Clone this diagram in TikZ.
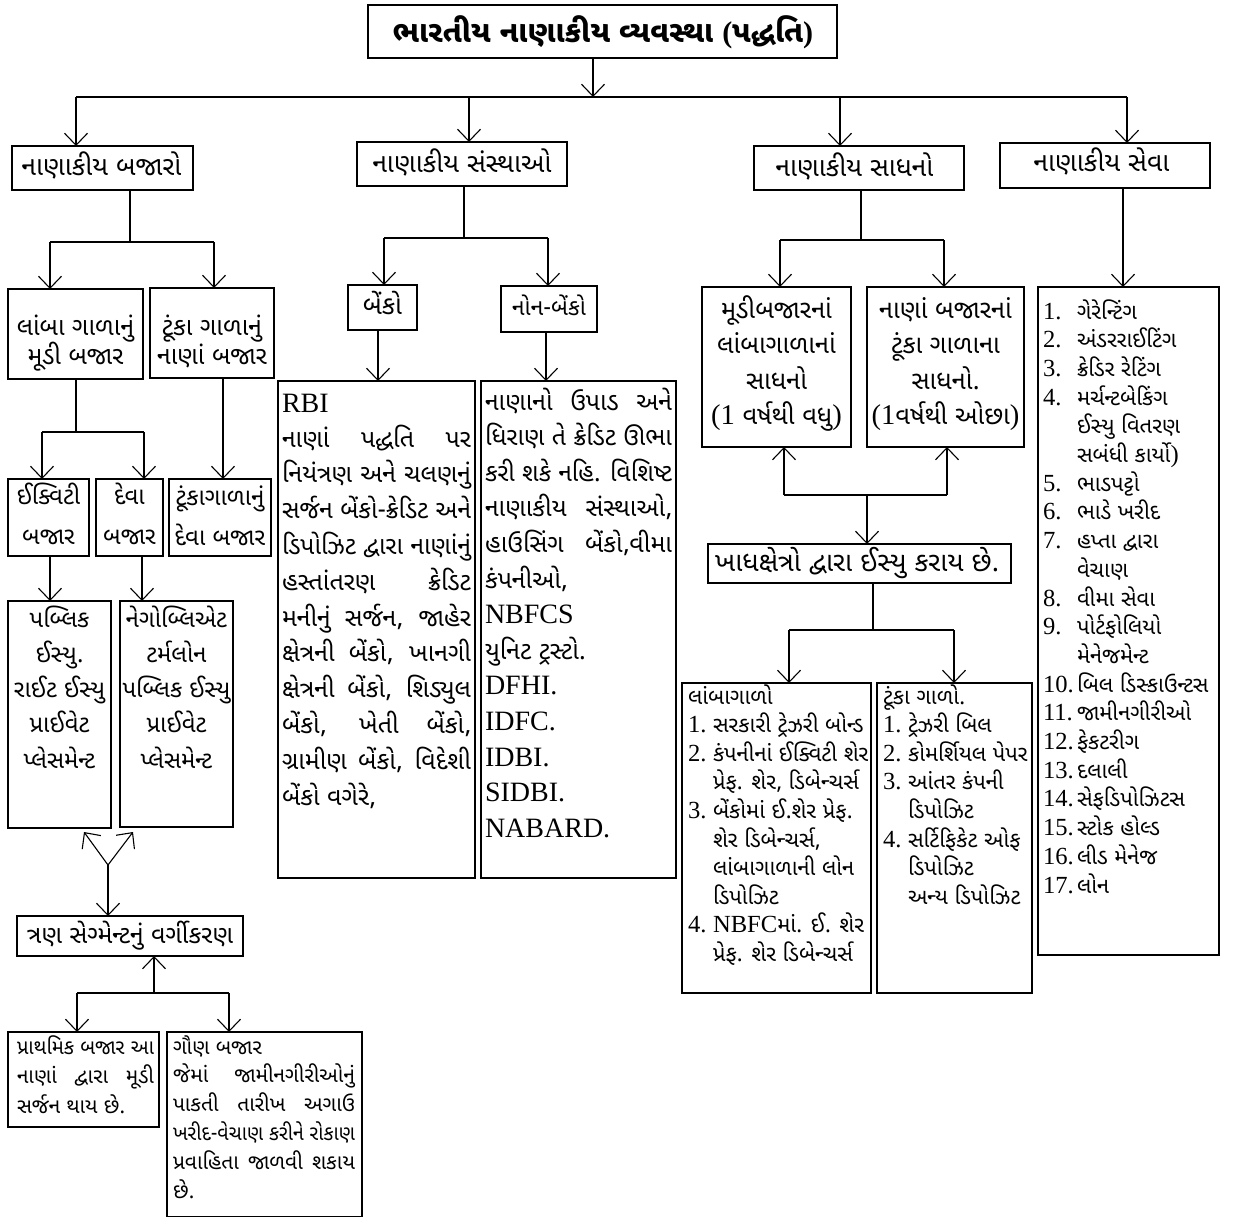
\documentclass[tikz,border=0pt]{standalone}
\usepackage{fontspec}
\usepackage{graphicx}
\setmainfont{Liberation Serif}
\newfontfamily\guj[Script=Gujarati]{Noto Sans Gujarati UI}
\newfontfamily\latf{Liberation Serif}
\usetikzlibrary{arrows.meta}
\newlength\jw
\newcommand\J[1]{\sbox0{#1}\ifdim\wd0>\jw\resizebox{\jw}{\height}{\usebox0}\else\makebox[\jw][s]{#1}\fi}
\makeatletter
\newcommand\lt[1]{{\latf\fontsize{\fpeval{round(\f@size*1.12,1)}}{10}\selectfont #1}}
\makeatother
\newcommand\LT[1]{{\latf\fontsize{28}{30}\selectfont #1}}
\newcommand\nm[2]{\makebox[#1][l]{\lt{#2}}}
\newcommand\tl[6]{\foreach \tx [count=\ii from 0] in {#6}{\node[#2] (#1-\ii) at (#3,{#4+\ii*#5}) {\tx};}}
\newcommand\bx[6][]{\node[box,#1,anchor=north west,minimum width={(#5-#3)*1pt},minimum height={(#6-#4)*1pt}] (#2) at (#3,#4) {};}
\tikzset{
 box/.style={draw, line width=1.1pt, inner sep=0pt, outer sep=0pt},
 arr/.style={-{Straight Barb[length=12pt,width=23pt]}, line width=1.1pt},
 ln/.style={line width=1.1pt},
 fs/.style={font=\guj\fontsize{#1}{#1}\selectfont},
 gl/.style={inner sep=0pt, outer sep=0pt, anchor=base west, fs=21},
 gc/.style={gl, anchor=base},
 hd/.style={inner sep=0pt, outer sep=0pt, anchor=base, fs=26.5},
}
\begin{document}
\begin{tikzpicture}[x=1pt,y=-1pt]
\useasboundingbox[fill=white] (0,0) rectangle (1236,1217);
% title
\bx[line width=2.6pt]{title}{368}{5}{837}{58}
\node[inner sep=0pt, anchor=base, font=\guj\bfseries\fontsize{30}{34}\selectfont] (t-title) at (603,43) {ભારતીય નાણાકીય વ્યવસ્થા {\latf(}પદ્ધતિ{\latf)}};
% level 1
\bx{baj}{12}{146}{193}{190}
\bx{san}{357}{142}{567}{186}
\bx{sad}{754}{146}{964}{190}
\bx{sev}{1000}{143}{1210}{188}
\node[hd] (t-baj) at (101.5,176) {નાણાકીય બજારો};
\node[hd] (t-san) at (462,173) {નાણાકીય સંસ્થાઓ};
\node[hd] (t-sad) at (854.5,177) {નાણાકીય સાધનો};
\node[hd] (t-sev) at (1101.5,172) {નાણાકીય સેવા};
\coordinate (hx) at (593,97);
\coordinate (h1) at (76,97);
\coordinate (h2) at (469,97);
\coordinate (h3) at (840,97);
\coordinate (h4) at (1127,97);
\draw[arr] (title.south -| hx) -- (hx);
\draw[ln] (h1) -- (h4);
\draw[arr] (h1) -- (h1 |- baj.north);
\draw[arr] (h2) -- (h2 |- san.north);
\draw[arr] (h3) -- (h3 |- sad.north);
\draw[arr] (h4) -- (h4 |- sev.north);
% markets subtree
\bx{lmb}{8}{289}{143}{379}
\bx{tnb}{150}{288}{274}{378}
\tl{t-lmb}{gc,fs=25}{75.5}{335}{29}{{લાંબા ગાળાનું},{મૂડી બજાર}}
\tl{t-tnb}{gc,fs=25}{212}{335}{29}{{ટૂંકા ગાળાનું},{નાણાં બજાર}}
\coordinate (b0) at (130,242);
\coordinate (bL) at (50,242);
\coordinate (bR) at (214,242);
\draw[ln] (baj.south -| b0) -- (b0);
\draw[ln] (bL) -- (bR);
\draw[arr] (bL) -- (bL |- lmb.north);
\draw[arr] (bR) -- (bR |- tnb.north);
\bx{eq}{8}{479}{89}{556}
\bx{dev}{96}{479}{163}{556}
\bx{tdb}{169}{479}{271}{556}
\tl{t-eq}{gc,fs=24}{48.5}{504}{40}{{ઈક્વિટી},{બજાર}}
\tl{t-dev}{gc,fs=24}{129.5}{504}{40}{{દેવા},{બજાર}}
\tl{t-tdb}{gc,fs=24}{220}{505}{40}{{ટૂંકાગાળાનું},{દેવા બજાર}}
\coordinate (c0) at (76,432);
\coordinate (cL) at (42,432);
\coordinate (cR) at (144,432);
\coordinate (tdt) at (223,479);
\draw[ln] (lmb.south -| c0) -- (c0);
\draw[ln] (cL) -- (cR);
\draw[arr] (cL) -- (cL |- eq.north);
\draw[arr] (cR) -- (cR |- dev.north);
\draw[arr] (tnb.south -| tdt) -- (tdt);
\bx{pub}{8}{601}{111}{828}
\bx{neg}{120}{601}{233}{827}
\tl{t-pub}{gc,fs=24}{59.5}{627}{35.3}{{પબ્લિક},{ઈસ્યુ.},{રાઈટ ઈસ્યુ},{પ્રાઈવેટ},{પ્લેસમેન્ટ}}
\tl{t-neg}{gc,fs=24}{176.5}{627}{35.3}{{નેગોબ્લિએટ},{ટર્મલોન},{પબ્લિક ઈસ્યુ},{પ્રાઈવેટ},{પ્લેસમેન્ટ}}
\coordinate (pt) at (50,601);
\coordinate (nt) at (142,601);
\draw[arr] (eq.south -| pt) -- (pt);
\draw[arr] (dev.south -| nt) -- (nt);
\bx{seg}{17}{916}{243}{956}
\node[gc,fs=25] (t-seg) at (130,943) {ત્રણ સેગ્મેન્ટનું વર્ગીકરણ};
\coordinate (vj) at (108,865);
\coordinate (va) at (84,832);
\coordinate (vb) at (133,832);
\draw[arr] (vj) -- (va);
\draw[arr] (vj) -- (vb);
\draw[arr] (vj) -- (vj |- seg.north);
\bx{pri}{8}{1032}{159}{1127}
\bx{gau}{167}{1032}{362}{1217}
\coordinate (sj) at (154,993);
\coordinate (sL) at (77,993);
\coordinate (sR) at (229,993);
\draw[arr] (sj) -- (sj |- seg.south);
\draw[ln] (sL) -- (sR);
\draw[arr] (sL) -- (sL |- pri.north);
\draw[arr] (sR) -- (sR |- gau.north);
\setlength\jw{137pt}
\tl{t-pri}{gl}{17}{1054}{29.5}{{\J{પ્રાથમિક બજાર આ}},{\J{નાણાં દ્વારા મૂડી}},{સર્જન થાય છે.}}
\setlength\jw{182pt}
\tl{t-gau}{gl}{173}{1054}{28.8}{{ગૌણ બજાર},{\J{જેમાં જામીનગીરીઓનું}},{\J{પાકતી તારીખ અગાઉ}},{\J{ખરીદ-વેચાણ કરીને રોકાણ}},{\J{પ્રવાહિતા જાળવી શકાય}},{છે.}}
% institutions subtree
\bx{ban}{348}{285}{417}{330}
\bx{nob}{501}{286}{597}{332}
\node[gc,fs=26] (t-ban) at (382.5,314) {બેંકો};
\node[gc,fs=23] (t-nob) at (549,315) {નોન-બેંકો};
\coordinate (m0) at (464,238);
\coordinate (mL) at (384,238);
\coordinate (mR) at (548,238);
\draw[ln] (san.south -| m0) -- (m0);
\draw[ln] (mL) -- (mR);
\draw[arr] (mL) -- (mL |- ban.north);
\draw[arr] (mR) -- (mR |- nob.north);
\bx{rbi}{278}{381}{475}{878}
\bx{nbk}{481}{381}{676}{878}
\coordinate (rt) at (378,381);
\coordinate (nbt) at (546,381);
\draw[arr] (ban.south -| rt) -- (rt);
\draw[arr] (nob.south -| nbt) -- (nbt);
\node[gl, font=\latf\fontsize{28}{30}\selectfont] (t-rbi) at (282,412) {RBI};
\setlength\jw{189pt}
\tl{t-rb}{gl,fs=25}{282}{447}{35.8}{{\J{નાણાં પદ્ધતિ પર}},{\J{નિયંત્રણ અને ચલણનું}},{\J{સર્જન બેંકો-ક્રેડિટ અને}},{\J{ડિપોઝિટ દ્વારા નાણાંનું}},{\J{હસ્તાંતરણ ક્રેડિટ}},{\J{મનીનું સર્જન, જાહેર}},{\J{ક્ષેત્રની બેંકો, ખાનગી}},{\J{ક્ષેત્રની બેંકો, શિડ્યુલ}},{\J{બેંકો, ખેતી બેંકો,}},{\J{ગ્રામીણ બેંકો, વિદેશી}},{બેંકો વગેરે,}}
\setlength\jw{187pt}
\tl{t-nb}{gl,fs=25}{485}{410}{35.6}{{\J{નાણાનો ઉપાડ અને}},{\J{ધિરાણ તે ક્રેડિટ ઊભા}},{\J{કરી શકે નહિ. વિશિષ્ટ}},{\J{નાણાકીય સંસ્થાઓ,}},{\J{હાઉસિંગ બેંકો,વીમા}},{કંપનીઓ,},{\LT{NBFCS}},{યુનિટ ટ્રસ્ટો.},{\LT{DFHI.}},{\LT{IDFC.}},{\LT{IDBI.}},{\LT{SIDBI.}},{\LT{NABARD.}}}
% instruments subtree
\bx{mi}{702}{287}{851}{447}
\bx{ti}{867}{287}{1024}{447}
\tl{t-mi}{gc,fs=25.5}{776.5}{318}{35.5}{{મૂડીબજારનાં},{લાંબાગાળાનાં},{સાધનો},{\lt{(1} વર્ષથી વધુ\lt{)}}}
\tl{t-ti}{gc,fs=25.5}{945.5}{318}{35.5}{{નાણાં બજારનાં},{ટૂંકા ગાળાના},{સાધનો.},{\lt{(1}વર્ષથી ઓછા\lt{)}}}
\coordinate (s0) at (861,240);
\coordinate (sL2) at (780,240);
\coordinate (sR2) at (944,240);
\draw[ln] (sad.south -| s0) -- (s0);
\draw[ln] (sL2) -- (sR2);
\draw[arr] (sL2) -- (sL2 |- mi.north);
\draw[arr] (sR2) -- (sR2 |- ti.north);
\bx{kha}{708}{544}{1011}{583}
\node[gc,fs=27] (t-kha) at (857,571) {ખાધક્ષેત્રો દ્વારા ઈસ્યુ કરાય છે.};
\coordinate (u0) at (867,495);
\coordinate (uL) at (784,495);
\coordinate (uR) at (947,495);
\draw[ln] (uL) -- (uR);
\draw[arr] (uL) -- (uL |- mi.south);
\draw[arr] (uR) -- (uR |- ti.south);
\draw[arr] (u0) -- (u0 |- kha.north);
\bx{lng}{682}{683}{871}{993}
\bx{sht}{877}{683}{1032}{993}
\coordinate (k0) at (873,630);
\coordinate (kL) at (789,630);
\coordinate (kR) at (954,630);
\draw[ln] (kha.south -| k0) -- (k0);
\draw[ln] (kL) -- (kR);
\draw[arr] (kL) -- (kL |- lng.north);
\draw[arr] (kR) -- (kR |- sht.north);
\tl{t-lng}{gl,fs=22}{688}{704}{28.6}{{લાંબાગાળો},{\nm{25pt}{1.}સરકારી ટ્રેઝરી બોન્ડ},{\nm{25pt}{2.}કંપનીનાં ઈક્વિટી શેર},{\hspace*{25pt}પ્રેફ. શેર, ડિબેન્ચર્સ},{\nm{25pt}{3.}બેંકોમાં ઈ.શેર પ્રેફ.},{\hspace*{25pt}શેર ડિબેન્ચર્સ,},{\hspace*{25pt}લાંબાગાળાની લોન},{\hspace*{25pt}ડિપોઝિટ},{\nm{25pt}{4.}\lt{NBFC}માં. ઈ. શેર},{\hspace*{25pt}પ્રેફ. શેર ડિબેન્ચર્સ}}
\tl{t-sht}{gl,fs=22}{883}{704}{28.6}{{ટૂંકા ગાળો.},{\nm{25pt}{1.}ટ્રેઝરી બિલ},{\nm{25pt}{2.}કોમર્શિયલ પેપર},{\nm{25pt}{3.}આંતર કંપની},{\hspace*{25pt}ડિપોઝિટ},{\nm{25pt}{4.}સર્ટિફિકેટ ઓફ},{\hspace*{25pt}ડિપોઝિટ},{\hspace*{25pt}અન્ય ડિપોઝિટ}}
% services
\bx{svl}{1038}{287}{1219}{955}
\coordinate (sv) at (1123,287);
\draw[arr] (sev.south -| sv) -- (sv);
\tl{t-svl}{gl,fs=22}{1043}{319}{28.7}{{\nm{34pt}{1.}ગેરેન્ટિંગ},{\nm{34pt}{2.}અંડરરાઈટિંગ},{\nm{34pt}{3.}ક્રેડિર રેટિંગ},{\nm{34pt}{4.}મર્ચન્ટબેકિંગ},{\hspace*{34pt}ઈસ્યુ વિતરણ},{\hspace*{34pt}સબંધી કાર્યો\lt{)}},{\nm{34pt}{5.}ભાડપટ્ટો},{\nm{34pt}{6.}ભાડે ખરીદ},{\nm{34pt}{7.}હપ્તા દ્વારા},{\hspace*{34pt}વેચાણ},{\nm{34pt}{8.}વીમા સેવા},{\nm{34pt}{9.}પોર્ટફોલિયો},{\hspace*{34pt}મેનેજમેન્ટ},{\nm{34pt}{10.}બિલ ડિસ્કાઉન્ટસ},{\nm{34pt}{11.}જામીનગીરીઓ},{\nm{34pt}{12.}ફેકટરીગ},{\nm{34pt}{13.}દલાલી},{\nm{34pt}{14.}સેફડિપોઝિટસ},{\nm{34pt}{15.}સ્ટોક હોલ્ડ},{\nm{34pt}{16.}લીડ મેનેજ},{\nm{34pt}{17.}લોન}}
\end{tikzpicture}
\end{document}
